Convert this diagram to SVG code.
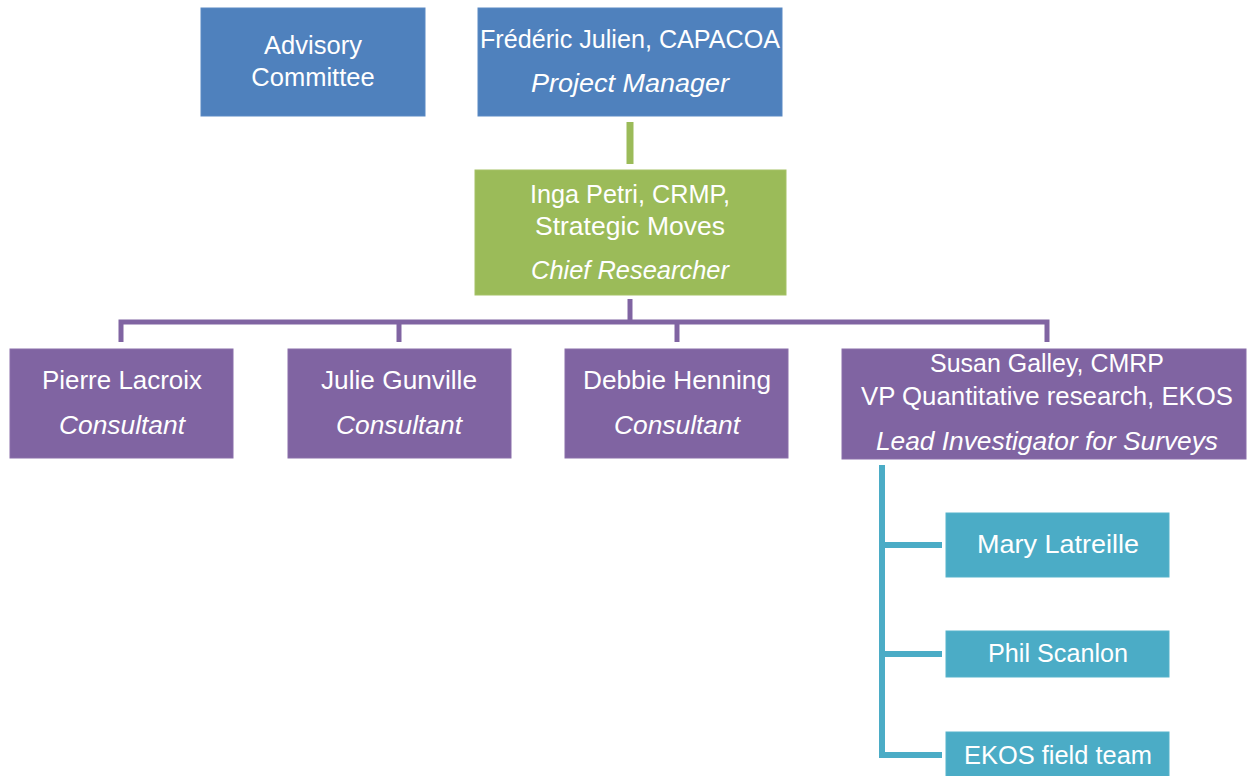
<svg xmlns="http://www.w3.org/2000/svg" width="1247" height="776" viewBox="0 0 1247 776">
<style>
text{font-family:"Liberation Sans",Arial,sans-serif;font-size:25.5px;fill:#fff;text-anchor:middle}
.i{font-style:italic}
.blue{fill:#4F81BD;stroke:#5A89C4;stroke-width:1}
.green{fill:#9BBB59;stroke:#A5C266;stroke-width:1}
.purple{fill:#8064A2;stroke:#8A6FAA;stroke-width:1}
.teal{fill:#4BACC6;stroke:#57B3CB;stroke-width:1}
.cg{stroke:#9BBB59;stroke-width:7;fill:none}
.cp{stroke:#8064A2;stroke-width:5;fill:none}
.ct{stroke:#4BACC6;stroke-width:6;fill:none}
</style>
<rect width="1247" height="776" fill="#fff"/>
<g id="connectors">
<line class="cg" x1="630" y1="122" x2="630" y2="164"/>
<line class="cp" x1="630" y1="299" x2="630" y2="322"/>
<path class="cp" d="M121 342 V322 H1047 V342"/>
<line class="cp" x1="399" y1="322" x2="399" y2="342"/>
<line class="cp" x1="677" y1="322" x2="677" y2="342"/>
<path class="ct" d="M882 465 V755 H942"/>
<line class="ct" x1="882" y1="545" x2="942" y2="545"/>
<line class="ct" x1="882" y1="654" x2="942" y2="654"/>
</g>
<g id="advisory">
<rect class="blue" x="201" y="8" width="224" height="108"/>
<text x="313" y="54">Advisory</text>
<text x="313" y="86">Committee</text>
</g>
<g id="julien">
<rect class="blue" x="478" y="8" width="304" height="108"/>
<text x="630" y="48" textLength="300" lengthAdjust="spacingAndGlyphs">Frédéric Julien, CAPACOA</text>
<text class="i" x="630" y="92" textLength="198" lengthAdjust="spacingAndGlyphs">Project Manager</text>
</g>
<g id="petri">
<rect class="green" x="475" y="170" width="311" height="125"/>
<text x="630" y="203" textLength="200" lengthAdjust="spacingAndGlyphs">Inga Petri, CRMP,</text>
<text x="630" y="235" textLength="190" lengthAdjust="spacingAndGlyphs">Strategic Moves</text>
<text class="i" x="630" y="279" textLength="198" lengthAdjust="spacingAndGlyphs">Chief Researcher</text>
</g>
<g id="lacroix">
<rect class="purple" x="10" y="349" width="223" height="109"/>
<text x="122" y="389" textLength="160" lengthAdjust="spacingAndGlyphs">Pierre Lacroix</text>
<text class="i" x="122" y="434" textLength="126" lengthAdjust="spacingAndGlyphs">Consultant</text>
</g>
<g id="gunville">
<rect class="purple" x="288" y="349" width="223" height="109"/>
<text x="399" y="389" textLength="156" lengthAdjust="spacingAndGlyphs">Julie Gunville</text>
<text class="i" x="399" y="434" textLength="126" lengthAdjust="spacingAndGlyphs">Consultant</text>
</g>
<g id="henning">
<rect class="purple" x="565" y="349" width="223" height="109"/>
<text x="677" y="389" textLength="188" lengthAdjust="spacingAndGlyphs">Debbie Henning</text>
<text class="i" x="677" y="434" textLength="126" lengthAdjust="spacingAndGlyphs">Consultant</text>
</g>
<g id="galley">
<rect class="purple" x="842" y="349" width="404" height="110"/>
<text x="1047" y="372" textLength="234" lengthAdjust="spacingAndGlyphs">Susan Galley, CMRP</text>
<text x="1047" y="405" textLength="372" lengthAdjust="spacingAndGlyphs">VP Quantitative research, EKOS</text>
<text class="i" x="1047" y="450" textLength="342" lengthAdjust="spacingAndGlyphs">Lead Investigator for Surveys</text>
</g>
<g id="latreille">
<rect class="teal" x="946" y="513" width="223" height="64"/>
<text x="1058" y="553" textLength="162" lengthAdjust="spacingAndGlyphs">Mary Latreille</text>
</g>
<g id="scanlon">
<rect class="teal" x="946" y="631" width="223" height="46"/>
<text x="1058" y="662" textLength="140" lengthAdjust="spacingAndGlyphs">Phil Scanlon</text>
</g>
<g id="fieldteam">
<rect class="teal" x="946" y="732" width="223" height="50"/>
<text x="1058" y="764" textLength="188" lengthAdjust="spacingAndGlyphs">EKOS field team</text>
</g>
</svg>
